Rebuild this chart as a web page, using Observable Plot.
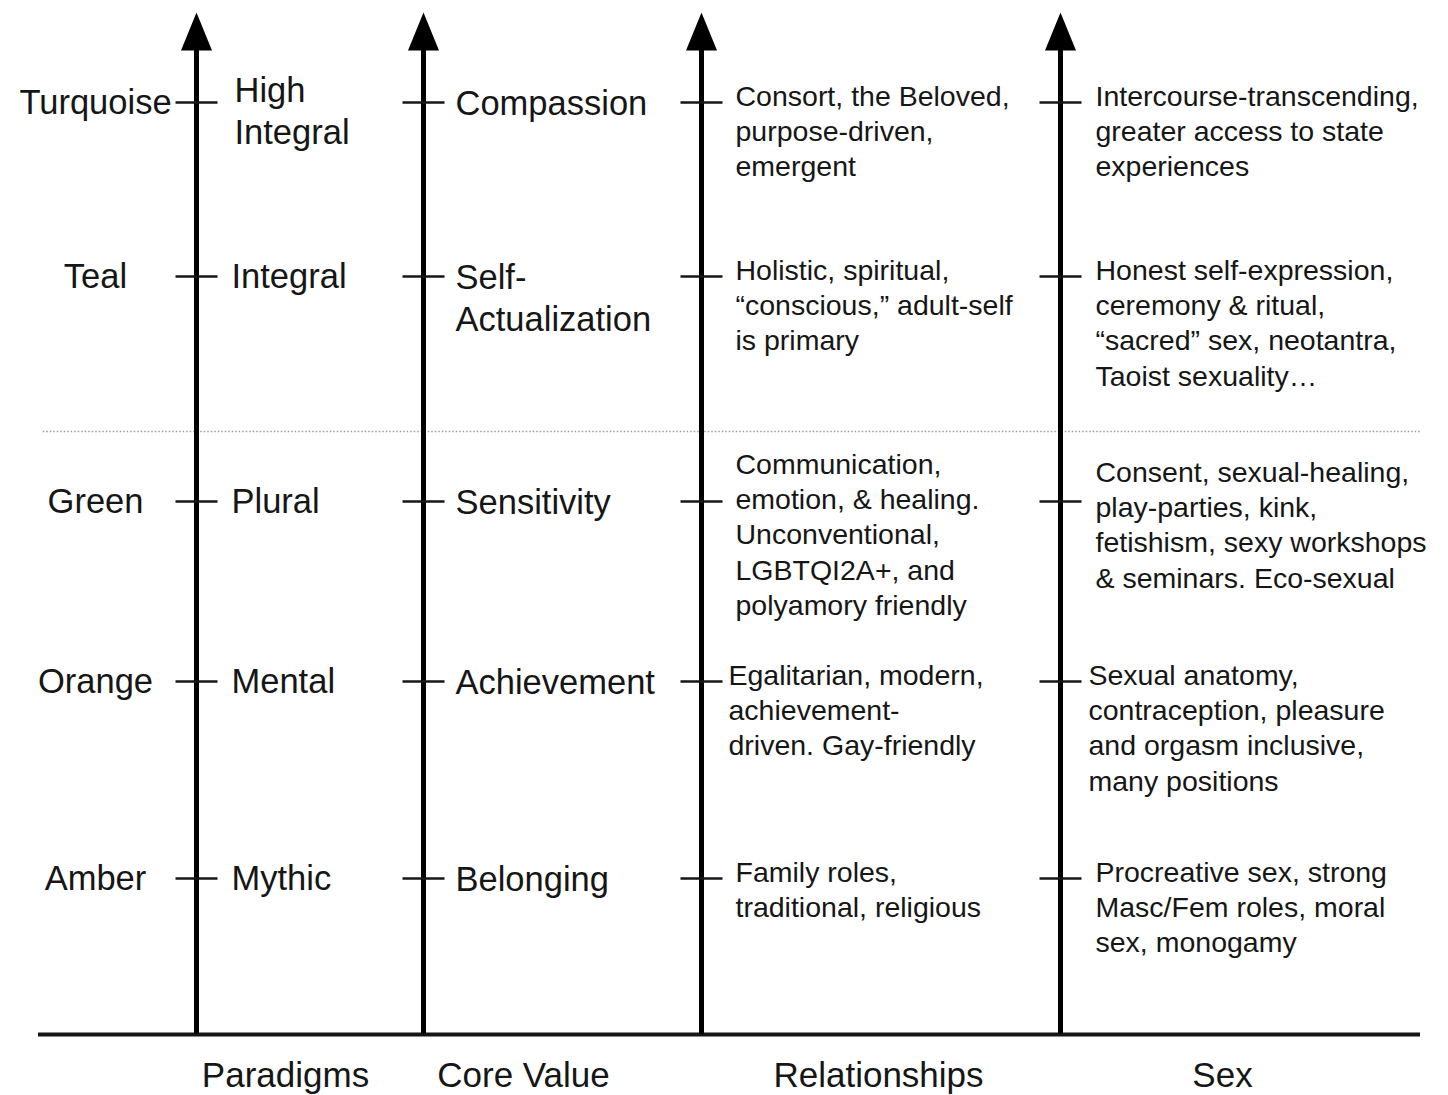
<!DOCTYPE html>
<html>
<head>
<meta charset="utf-8">
<script src="https://cdn.jsdelivr.net/npm/d3@7"></script>
<script src="https://cdn.jsdelivr.net/npm/@observablehq/plot@0.6"></script>
<style>
  html, body { margin: 0; padding: 0; background: #fff; }
  #chart svg { display: block; }
</style>
</head>
<body>
<div id="chart"></div>
<script>
// ---- Data (levels listed bottom to top) ----
const columns = ["Paradigms", "Core Value", "Relationships", "Sex"];
const levels = ["Amber", "Orange", "Green", "Teal", "Turquoise"];
const paradigms = ["Mythic", "Mental", "Plural", "Integral", "High\nIntegral"];
const coreValues = ["Belonging", "Achievement", "Sensitivity", "Self-\nActualization", "Compassion"];
const relationships = [
  "Family roles,\ntraditional, religious",
  "Egalitarian, modern,\nachievement-\ndriven. Gay-friendly",
  "Communication,\nemotion, & healing.\nUnconventional,\nLGBTQI2A+, and\npolyamory friendly",
  "Holistic, spiritual,\n“conscious,” adult-self\nis primary",
  "Consort, the Beloved,\npurpose-driven,\nemergent"
];
const sex = [
  "Procreative sex, strong\nMasc/Fem roles, moral\nsex, monogamy",
  "Sexual anatomy,\ncontraception, pleasure\nand orgasm inclusive,\nmany positions",
  "Consent, sexual-healing,\nplay-parties, kink,\nfetishism, sexy workshops\n& seminars. Eco-sexual",
  "Honest self-expression,\nceremony & ritual,\n“sacred” sex, neotantra,\nTaoist sexuality…",
  "Intercourse-transcending,\ngreater access to state\nexperiences"
];
const divideBetween = ["Green", "Teal"]; // dotted separator lies between these levels

// ---- Derived tables ----
const rank = (l) => levels.indexOf(l) + 1;
const colIndex = (c) => columns.indexOf(c) + 1;
const cells = columns.flatMap((c) => levels.map((l) => ({col: c, level: l})));
const makeRows = (arr) => arr.map((text, i) => ({level: levels[i], text}));
const paradigmRows = makeRows(paradigms);
const coreRows = makeRows(coreValues);
const relRows = makeRows(relationships);
const sexRows = makeRows(sex);
const divider = (rank(divideBetween[0]) + rank(divideBetween[1])) / 2;
const topLevel = levels.length + 1;
const multi = (d) => d.text.includes("\n");

// ---- Custom symbols ----
const arrowHead = { draw(ctx) { ctx.moveTo(0, 0); ctx.lineTo(15.5, 38); ctx.lineTo(-15.5, 38); ctx.closePath(); } };
const tickMark = { draw(ctx) { ctx.moveTo(-21, 0); ctx.lineTo(21, 0); } };

const ink = "#161616";
const big = 34.5, small = 28.5;

const descMarks = (rows, col, dx) => [
  Plot.text(rows, { filter: (d) => d.level !== "Green" && d.level !== "Orange", x: colIndex(col), y: (d) => rank(d.level), text: "text", dx, dy: -21, textAnchor: "start", lineAnchor: "top", lineHeight: 1.23, fontSize: small, fill: ink }),
  Plot.text(rows, { filter: (d) => d.level === "Orange", x: colIndex(col), y: (d) => rank(d.level), text: "text", dx: dx - 7, dy: -21, textAnchor: "start", lineAnchor: "top", lineHeight: 1.23, fontSize: small, fill: ink }),
  Plot.text(rows, { filter: (d) => d.level === "Green", x: colIndex(col), y: (d) => rank(d.level), text: "text", dx, dy: col === "Sex" ? -44 : -52, textAnchor: "start", lineAnchor: "top", lineHeight: 1.23, fontSize: small, fill: ink })
];

const chart = Plot.plot({
  width: 1448,
  height: 1095,
  margin: 0,
  style: { fontFamily: "'Liberation Sans', Arial, sans-serif", background: "#fff", color: ink },
  x: { type: "linear", domain: [0, 1, 1.5, 2, 2.5, 3, 3.5, 4, 4.5, 5], range: [38, 196, 285, 423, 523, 701, 878, 1060, 1222, 1420], axis: null },
  y: { type: "linear", domain: [-1, 0, 1, 2, 3, 3.5, 4, 5, 6], range: [1075, 1034, 878, 681, 501, 431, 276, 102, 12], axis: null },
  marks: [
    // dotted separator
    Plot.ruleY([divider], { x1: 0.03, x2: 5, stroke: "#9a9a9a", strokeWidth: 1.3, strokeDasharray: "1.5,2" }),
    // baseline
    Plot.ruleY([0], { x1: 0, x2: 5, stroke: ink, strokeWidth: 4 }),
    // arrow shafts
    Plot.ruleX(columns, { x: colIndex, y1: 0, y2: topLevel - 0.42, stroke: "#000", strokeWidth: 5 }),
    // arrow heads
    Plot.dot(columns, { x: colIndex, y: topLevel, symbol: arrowHead, r: 10, fill: "#000", stroke: "none" }),
    // level ticks
    Plot.dot(cells, { x: (d) => colIndex(d.col), y: (d) => rank(d.level), symbol: tickMark, r: 10, fill: "none", stroke: ink, strokeWidth: 2.5 }),
    // level names
    Plot.text(levels, { x: 1, y: rank, text: (d) => d, dx: -101, textAnchor: "middle", lineAnchor: "middle", fontSize: big, fill: ink }),
    // paradigms
    Plot.text(paradigmRows, { filter: (d) => !multi(d), x: colIndex("Paradigms"), y: (d) => rank(d.level), text: "text", dx: 35, dy: -2, textAnchor: "start", lineAnchor: "middle", lineHeight: 1.22, fontSize: big, fill: ink }),
    Plot.text(paradigmRows, { filter: multi, x: colIndex("Paradigms"), y: (d) => rank(d.level), text: "text", dx: 38, dy: 7, textAnchor: "start", lineAnchor: "middle", lineHeight: 1.22, fontSize: big, fill: ink }),
    // core values
    Plot.text(coreRows, { x: colIndex("Core Value"), y: (d) => rank(d.level), text: "text", dx: 32, dy: -17, textAnchor: "start", lineAnchor: "top", lineHeight: 1.22, fontSize: big, fill: ink }),
    // relationships & sex
    ...descMarks(relRows, "Relationships", 34),
    ...descMarks(sexRows, "Sex", 35),
    // column titles
    Plot.text(columns, { x: (d) => colIndex(d) + 0.5, y: -1, text: (d) => d, textAnchor: "middle", lineAnchor: "middle", fontSize: 35, fill: ink })
  ]
});
document.getElementById("chart").appendChild(chart);
</script>
</body>
</html>
